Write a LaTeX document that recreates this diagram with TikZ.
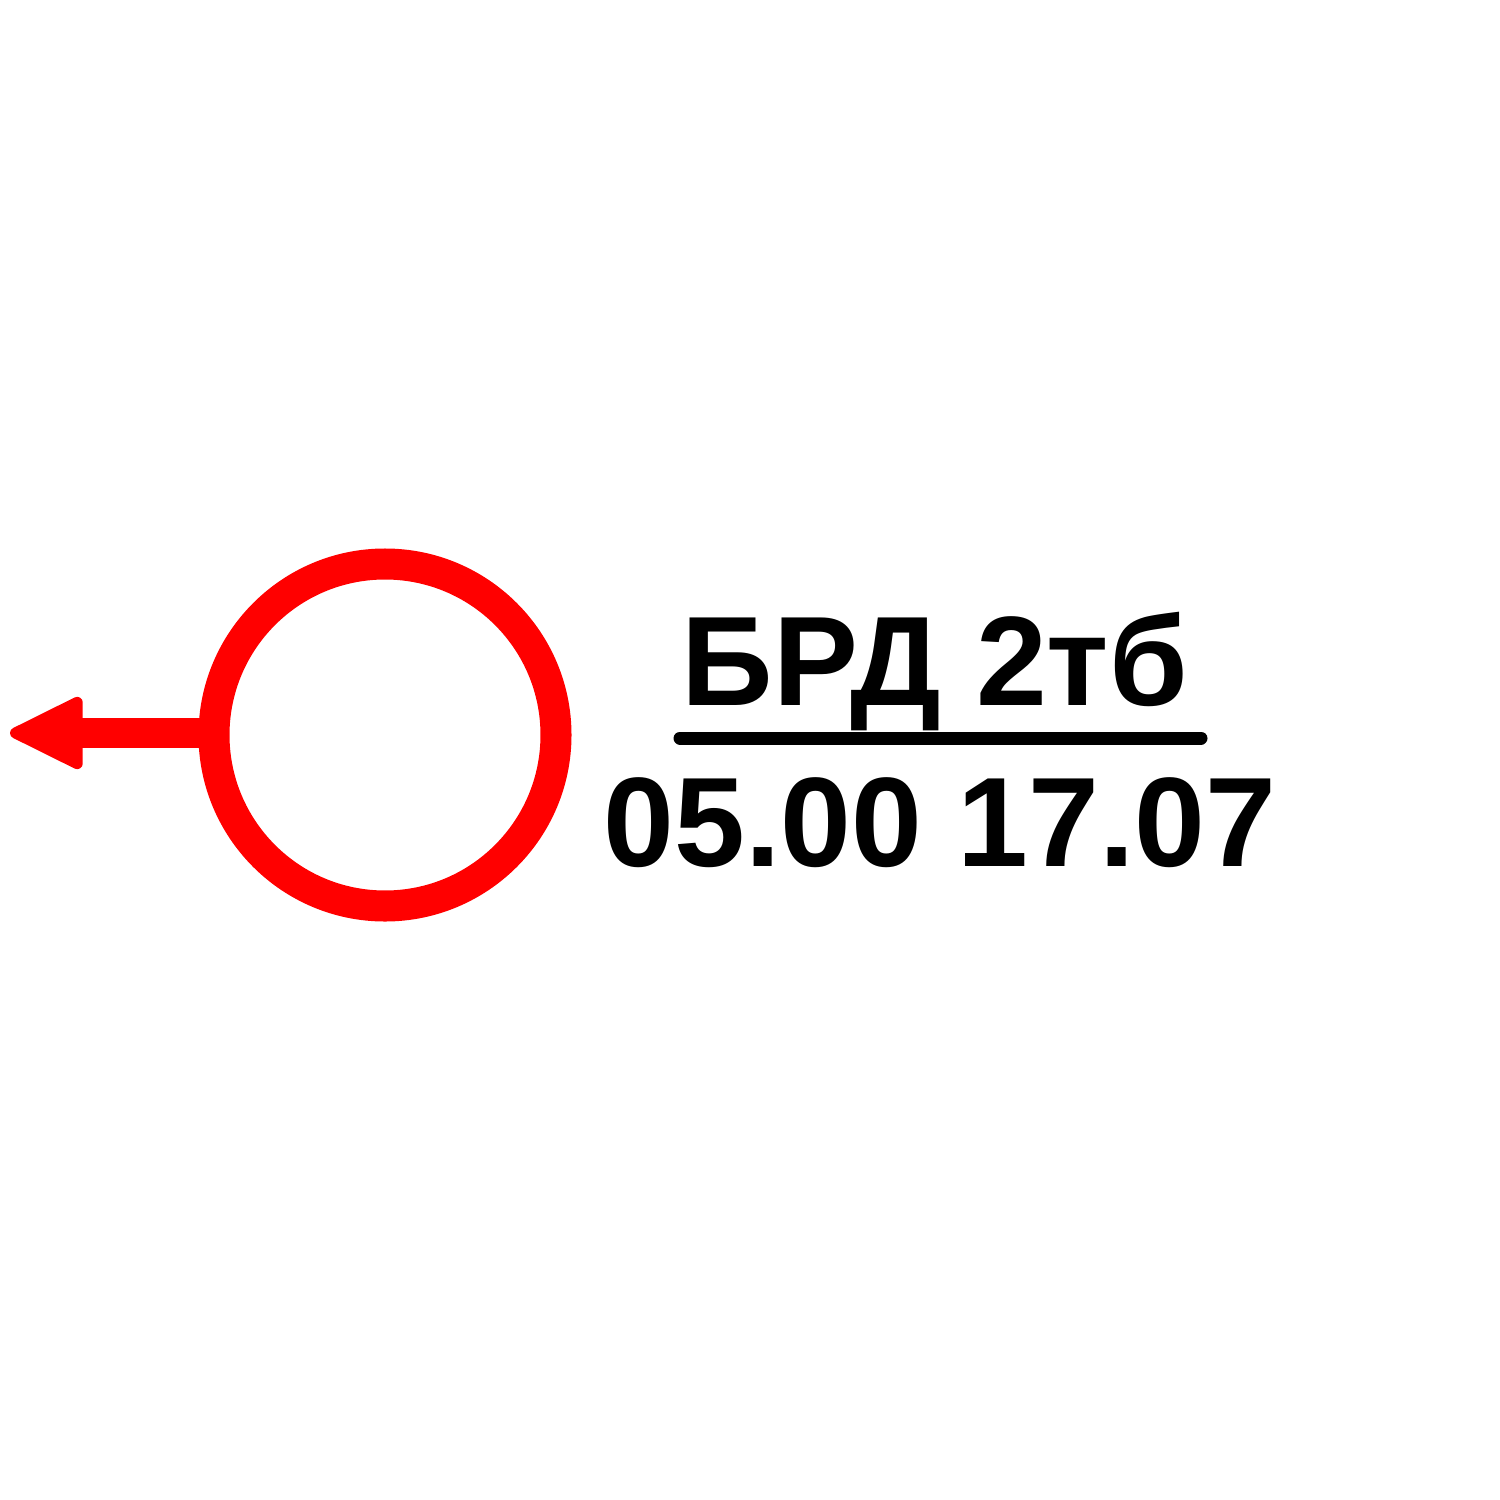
\documentclass[tikz,border=0pt]{standalone}
\usepackage{fontspec}
\setmainfont{Liberation Sans}
\usetikzlibrary {arrows.meta}

\begin{document}
\begin{tikzpicture}[x=0.01cm,y=-0.01cm,
    lbl/.style={inner sep=0pt, anchor=base, font=\fontsize{36.2}{40}\selectfont\bfseries}]
		\useasboundingbox[fill=white] (0,0) rectangle (1500,1500);
		\coordinate (c) at (385,735);
		\draw[red, line width=0.31cm] (c) circle (171);
		\coordinate (stem) at (214,733);
		\coordinate (tip) at (10,733);
		\draw[red, line width=0.3cm, -{Triangle[round, length=0.80cm, width=0.76cm, line width=0.11cm]}] (stem) -- (tip);
		\node[lbl] (name) at (935,705) {БРД 2тб};
		\draw[line width=0.13cm, line cap=round] (680,738) -- (1201,738);
		\node[lbl] (time) at (940,866) {05.00 17.07};
	\end{tikzpicture}
\end{document}
